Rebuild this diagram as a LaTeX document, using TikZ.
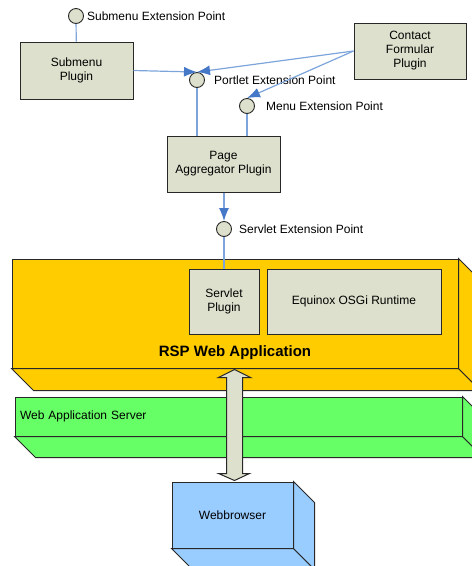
\documentclass[tikz,border=0pt]{standalone}
\usepackage{fontspec}
\setmainfont{Liberation Sans}
\usetikzlibrary{arrows.meta,calc,positioning}

\definecolor{plugfill}{RGB}{221,224,204}
\definecolor{rspgold}{RGB}{255,204,0}
\definecolor{wasgreen}{RGB}{102,255,102}
\definecolor{webblue}{RGB}{153,204,255}
\definecolor{linkblue}{RGB}{125,165,220}
\definecolor{tipblue}{RGB}{70,120,200}
\definecolor{edge}{RGB}{40,40,40}

\begin{document}
\begin{tikzpicture}[x=1pt,y=-1pt,
		font=\fontsize{12}{14}\selectfont,
		plugin/.style={draw=edge,line width=1pt,fill=plugfill,align=center,inner sep=2pt},
		extpoint/.style={circle,draw=edge,line width=0.9pt,fill=plugfill,minimum size=15pt,inner sep=0pt},
		extlabel/.style={inner sep=0pt,label distance=#1},
		link/.style={draw=linkblue,line width=1.2pt},
		uses/.style={link,-{Latex[length=13pt,width=10pt,color=tipblue]}},
		box3d/.style={draw=edge,line width=1pt},
		bigarrow/.style={draw=edge,line width=1pt,fill=plugfill}]
	\useasboundingbox (0,0) rectangle (472,566);
	\clip (0,0) rectangle (472,566);

	%RSP Web Application
	\node[box3d, fill=rspgold, minimum width=446pt, minimum height=109pt, inner sep=0pt] (rsp) at (235,313.5) {};
	\draw[box3d, fill=rspgold] (rsp.south west) -- ++(22,22) -- ($(rsp.south east)+(22,22)$) -- (rsp.south east) -- cycle;
	\draw[box3d, fill=rspgold] (rsp.north east) -- ++(22,22) -- ($(rsp.south east)+(22,22)$) -- (rsp.south east) -- cycle;
	\node[font=\fontsize{15}{18}\selectfont\bfseries] (rsplbl) at ($(rsp.south)+(0,-16)$) {RSP Web Application};
	\node[plugin, minimum width=70pt, minimum height=65pt] (servplug) at (224,301.5) {Servlet\\Plugin};
	\node[plugin, minimum width=174pt, minimum height=65pt] (osgi) at (354,301.5) {Equinox OSGi Runtime};

	%Web Application Server
	\node[box3d, fill=wasgreen, minimum width=447pt, minimum height=39pt, inner sep=5pt, text width=437pt, align=left] (was) at (238.5,416.5) {Web Application Server};
	\draw[box3d, fill=wasgreen] (was.south west) -- ++(21,21) -- ($(was.south east)+(21,21)$) -- (was.south east) -- cycle;
	\draw[box3d, fill=wasgreen] (was.north east) -- ++(21,21) -- ($(was.south east)+(21,21)$) -- (was.south east) -- cycle;

	%Webbrowser
	\node[box3d, fill=webblue, minimum width=121pt, minimum height=66pt] (web) at (232.5,515) {Webbrowser};
	\draw[box3d, fill=webblue] (web.south west) -- ++(21,21) -- ($(web.south east)+(21,21)$) -- (web.south east) -- cycle;
	\draw[box3d, fill=webblue] (web.north east) -- ++(21,21) -- ($(web.south east)+(21,21)$) -- (web.south east) -- cycle;

	\coordinate (up) at ($(rsp.south -| web.north)+(2,1)$);
	\coordinate (down) at ($(web.north)+(2,-1)$);
	\draw[bigarrow] (up) -- ++(16,8) -- ++(-8,0) -- ($(down)+(8,-7)$) -- ++(7,0) -- (down) -- ++(-16,-7) -- ++(8,0) -- ($(up)+(-8,8)$) -- ++(-8,0) -- cycle;

	%Plugins
	\node[extpoint, label={[extlabel=3pt]right:Submenu Extension Point}] (subext) at (76,16) {};
	\node[plugin, minimum width=113pt, minimum height=57pt] (sub) at (76.5,70.5) {Submenu\\Plugin};
	\node[plugin, minimum width=112pt, minimum height=56pt] (contact) at (410,51) {Contact\\Formular\\Plugin};
	\node[extpoint, label={[extlabel=9pt]right:Portlet Extension Point}] (portlet) at (197,80) {};
	\node[extpoint, label={[extlabel=11pt]right:Menu Extension Point}] (menu) at (247,106) {};
	\node[plugin, minimum width=113pt, minimum height=56pt] (page) at (223.5,164) {Page\\Aggregator Plugin};
	\node[extpoint, label={[extlabel=7pt]right:Servlet Extension Point}] (servext) at (224,229) {};

	%Verbindungen
	\draw[link] (subext) -- (sub);
	\draw[uses] (sub.east) -- (portlet.north);
	\draw[uses] (contact.west) -- (portlet.north);
	\draw[uses] (contact.west) -- (menu.north);
	\draw[link] (portlet) -- (portlet |- page.north);
	\draw[link] (menu) -- (menu |- page.north);
	\draw[uses] (page.south -| servext) -- (servext.north);
	\draw[link] (servext) -- (servplug);
\end{tikzpicture}
\end{document}
